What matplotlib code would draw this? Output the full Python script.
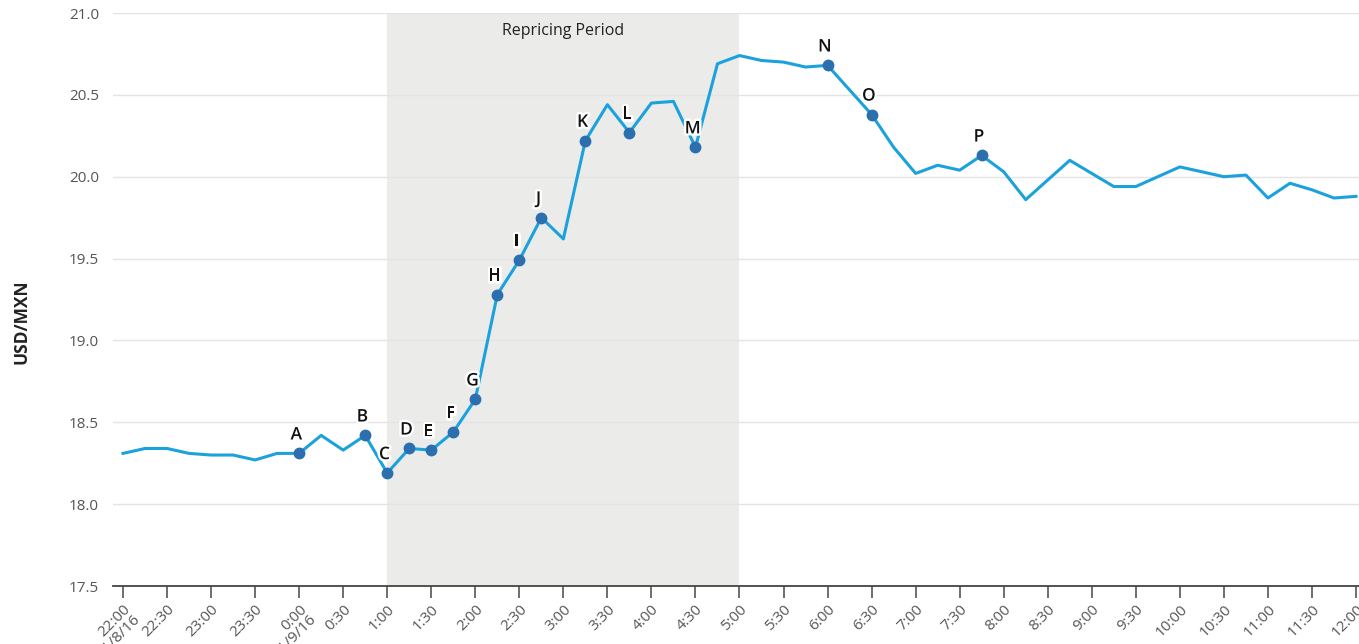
import matplotlib
matplotlib.use("Agg")
import matplotlib.pyplot as plt
import matplotlib.patheffects as pe
import numpy as np

plt.rcParams['font.family'] = ['Open Sans', 'DejaVu Sans']

# quarter-hour readings, 22:00 on 11/8/16 to 12:00 on 11/9/16
times = ["22:00", "22:15", "22:30", "22:45", "23:00", "23:15", "23:30", "23:45",
         "0:00", "0:15", "0:30", "0:45", "1:00", "1:15", "1:30", "1:45",
         "2:00", "2:15", "2:30", "2:45", "3:00", "3:15", "3:30", "3:45",
         "4:00", "4:15", "4:30", "4:45", "5:00", "5:15", "5:30", "5:45",
         "6:00", "6:15", "6:30", "6:45", "7:00", "7:15", "7:30", "7:45",
         "8:00", "8:15", "8:30", "8:45", "9:00", "9:15", "9:30", "9:45",
         "10:00", "10:15", "10:30", "10:45", "11:00", "11:15", "11:30", "11:45",
         "12:00"]
usd_mxn = [18.31, 18.34, 18.34, 18.31, 18.30, 18.30, 18.27, 18.31,
           18.31, 18.42, 18.33, 18.42, 18.19, 18.34, 18.33, 18.44,
           18.64, 19.28, 19.49, 19.75, 19.62, 20.22, 20.44, 20.27,
           20.45, 20.46, 20.18, 20.69, 20.74, 20.71, 20.70, 20.67,
           20.68, 20.53, 20.38, 20.18, 20.02, 20.07, 20.04, 20.13,
           20.03, 19.86, 19.98, 20.10, 20.02, 19.94, 19.94, 20.00,
           20.06, 20.03, 20.00, 20.01, 19.87, 19.96, 19.92, 19.87,
           19.88]

event_letters = list("ABCDEFGHIJKLMNOP")
event_times = ["0:00", "0:45", "1:00", "1:15", "1:30", "1:45", "2:00", "2:15",
               "2:30", "2:45", "3:15", "3:45", "4:30", "6:00", "6:30", "7:45"]

repricing = ("1:00", "5:00")
date_marks = {"22:00": "11/8/16", "0:00": "11/9/16"}

x = np.arange(len(times))
idx = {t: i for i, t in enumerate(times)}

fig = plt.figure(figsize=(13.59, 6.44), dpi=100)
ax = fig.add_axes([113 / 1359, 58 / 644, 1246 / 1359, 573 / 644])

ax.axvspan(idx[repricing[0]], idx[repricing[1]], color="#ebebea", zorder=0, lw=0)
ax.text((idx[repricing[0]] + idx[repricing[1]]) / 2, 20.89, "Repricing Period",
        ha="center", va="center", fontsize=11.5, color="#222222")

ax.plot(x, usd_mxn, color="#1ba1dc", lw=2.2, zorder=3)

ex = [idx[t] for t in event_times]
ey = [usd_mxn[i] for i in ex]
ax.plot(ex, ey, "o", color="#2c6fae", ms=7.5, zorder=4)
for letter, xi, yi in zip(event_letters, ex, ey):
    ax.annotate(letter, (xi, yi), xytext=(-2, 10), textcoords="offset points",
                ha="center", va="baseline", fontsize=12.5, fontweight="semibold",
                color="#111111", zorder=5,
                path_effects=[pe.withStroke(linewidth=3.5, foreground="white")])

ax.set_ylim(17.5, 21.0)
ax.set_xlim(-10 / 22.02, 56 + 3 / 22.02)
ax.set_yticks(np.arange(17.5, 21.01, 0.5))
ax.set_yticklabels([f"{v:.1f}" for v in np.arange(17.5, 21.01, 0.5)])
ax.grid(axis="y", color="#e4e4e4", lw=1)
ax.set_axisbelow(True)

tick_pos = x[::2]
tick_labels = [times[i] + ("\n" + date_marks[times[i]] if times[i] in date_marks else "")
               for i in tick_pos]
ax.set_xticks(tick_pos)
ax.set_xticklabels(tick_labels, rotation=45, ha="right", va="top",
                   rotation_mode="anchor", fontsize=11, color="#555555",
                   linespacing=0.9)
ax.tick_params(axis="x", length=8.5, width=1.2, color="#555555", pad=3)
ax.tick_params(axis="y", length=0, pad=10, labelsize=11, labelcolor="#555555")

for s in ["top", "right", "left"]:
    ax.spines[s].set_visible(False)
ax.spines["bottom"].set_color("#444444")
ax.spines["bottom"].set_linewidth(1.3)

fig.text(22 / 1359, 0.5, "USD/MXN", rotation=90, ha="center", va="center",
         fontsize=12.5, fontweight="bold", color="#222222")

fig.savefig("out.png", dpi=100)
